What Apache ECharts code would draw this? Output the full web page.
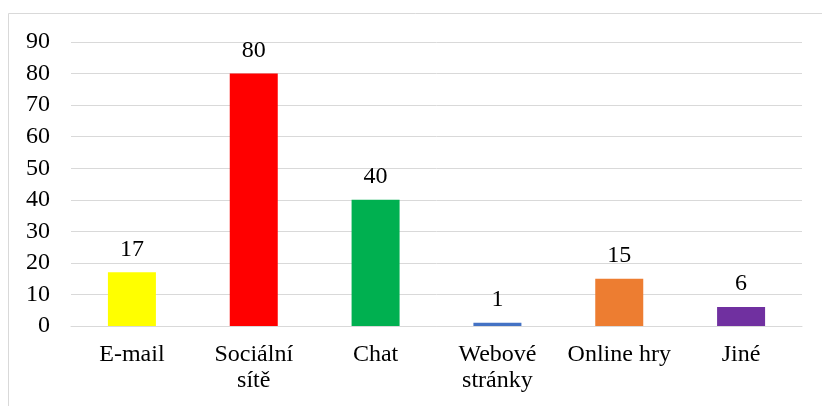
<!DOCTYPE html>
<html>
<head>
<meta charset="utf-8">
<script src="https://cdn.jsdelivr.net/npm/echarts@6/dist/echarts.min.js"></script>
<style>html,body{margin:0;padding:0;background:#fff;}#c{width:822px;height:406px;}</style>
</head>
<body>
<div id="c"></div>
<script>
const categories = ['E-mail', 'Sociální sítě', 'Chat', 'Webové stránky', 'Online hry', 'Jiné'];
const values = [17, 80, 40, 1, 15, 6];
const colors = ['#FFFF00', '#FF0000', '#00B050', '#4472C4', '#ED7D31', '#7030A0'];
const yTicks = [0, 10, 20, 30, 40, 50, 60, 70, 80, 90];

const font = 'Liberation Serif';
const chart = echarts.init(document.getElementById('c'), null, {renderer: 'canvas'});
chart.setOption({
  animation: false,
  backgroundColor: '#fff',
  graphic: [{
    type: 'rect', shape: {x: 8.5, y: 13.5, width: 900, height: 500},
    style: {fill: 'none', stroke: '#d9d9d9', lineWidth: 1}, silent: true
  }],
  grid: {left: 71, right: 20, top: 42, bottom: 80, containLabel: false},
  xAxis: {
    type: 'category',
    data: categories,
    axisLine: {lineStyle: {color: '#d9d9d9', width: 1}},
    axisTick: {show: false},
    axisLabel: {
      color: '#000', fontFamily: font, fontSize: 24, margin: 16, lineHeight: 26,
      interval: 0,
      formatter: v => v.length > 12 ? v.replace(' ', '\n') : v
    }
  },
  yAxis: {
    type: 'value',
    min: yTicks[0], max: yTicks[yTicks.length - 1], interval: 10,
    axisLine: {show: false},
    axisTick: {show: false},
    splitLine: {lineStyle: {color: '#d9d9d9', width: 1}},
    axisLabel: {color: '#000', fontFamily: font, fontSize: 24, margin: 21}
  },
  series: [{
    type: 'bar',
    data: values.map((v, i) => ({value: v, itemStyle: {color: colors[i]}})),
    barWidth: 48,
    label: {show: true, position: 'top', distance: 11, color: '#000', fontFamily: font, fontSize: 24}
  }]
});
</script>
</body>
</html>
